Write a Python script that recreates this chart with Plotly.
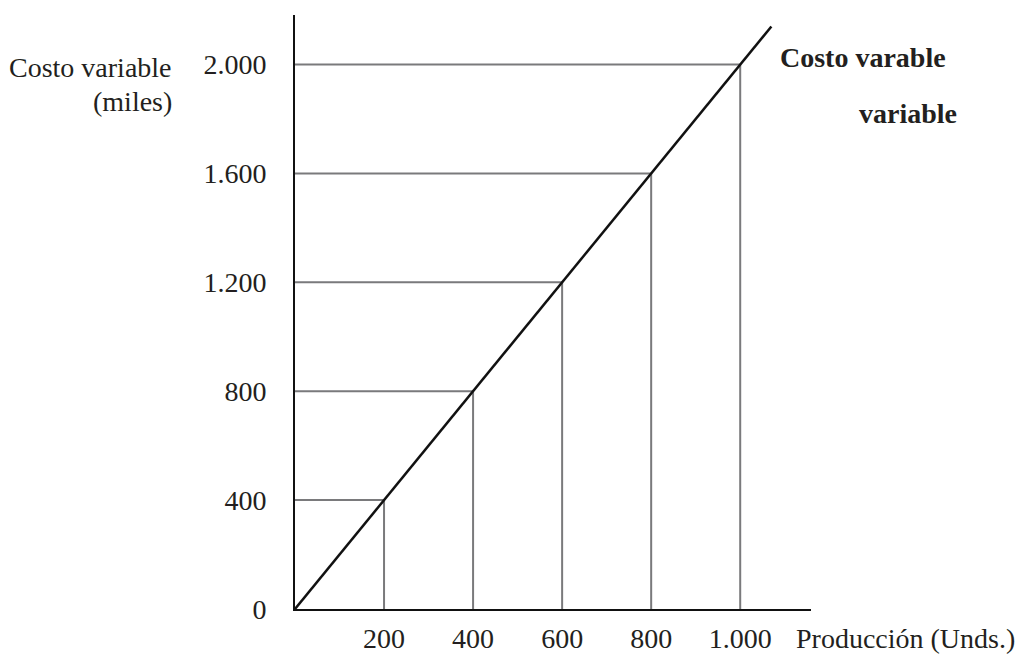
import plotly.graph_objects as go

# Data
production = [200, 400, 600, 800, 1000]
variable_cost = [400, 800, 1200, 1600, 2000]
x_tick_labels = ["200", "400", "600", "800", "1.000"]
y_tick_values = [0, 400, 800, 1200, 1600, 2000]
y_tick_labels = ["0", "400", "800", "1.200", "1.600", "2.000"]
line_production = [0, 1070]

unit_cost = variable_cost[-1] / production[-1]
line_cost = [p * unit_cost for p in line_production]

FONT = "Liberation Serif"
FS = 28
TXT = "#231f20"
GRAY = "#7a7a7c"

fig = go.Figure()

for p, c in zip(production, variable_cost):
    fig.add_trace(go.Scatter(x=[0, p, p], y=[c, c, 0], mode="lines",
                             line=dict(color=GRAY, width=2), hoverinfo="skip",
                             showlegend=False))

fig.add_trace(go.Scatter(x=line_production, y=line_cost, mode="lines",
                         line=dict(color="#111111", width=2.5),
                         showlegend=False))

OFF = 8  # page body margin
W, H = 1026 - 2 * OFF, 656 - OFF
L, R, T, B = 294.5 - OFF, 811.0 - OFF, 15.0 - OFF, 609.0 - OFF


def px(xp):
    return (xp - OFF - L) / (R - L)


def py(yp):
    return (B - (yp - OFF)) / (B - T)


fig.update_layout(
    width=W, height=H,
    margin=dict(l=L, r=W - R, t=T, b=H - B, pad=0),
    plot_bgcolor="white", paper_bgcolor="white",
    font=dict(family=FONT, color=TXT, size=FS),
    xaxis=dict(range=[0, 1159], showgrid=False, zeroline=False,
               showline=True, linecolor="#111111", linewidth=2,
               tickvals=production, ticktext=x_tick_labels,
               ticks="", ticklabelstandoff=3, automargin=False,
               tickfont=dict(family=FONT, size=FS, color=TXT)),
    yaxis=dict(range=[0, 2182], showgrid=False, zeroline=False,
               showline=True, linecolor="#111111", linewidth=2,
               tickvals=y_tick_values, ticktext=y_tick_labels,
               ticks="", ticklabelstandoff=21, automargin=False,
               tickfont=dict(family=FONT, size=FS, color=TXT)),
    annotations=[
        dict(text="Costo variable", xref="paper", yref="paper",
             x=px(173), y=py(67), xanchor="right", yanchor="middle",
             showarrow=False, font=dict(size=FS)),
        dict(text="(miles)", xref="paper", yref="paper",
             x=px(173), y=py(101), xanchor="right", yanchor="middle",
             showarrow=False, font=dict(size=FS)),
        dict(text="Producción (Unds.)", xref="paper", yref="paper",
             x=px(794), y=py(638), xanchor="left", yanchor="middle",
             showarrow=False, font=dict(size=FS)),
        dict(text="<b>Costo varable</b>", xref="paper", yref="paper",
             x=px(778), y=py(57), xanchor="left", yanchor="middle",
             showarrow=False, font=dict(size=FS)),
        dict(text="<b>variable</b>", xref="paper", yref="paper",
             x=px(857), y=py(114), xanchor="left", yanchor="middle",
             showarrow=False, font=dict(size=FS)),
    ],
)

fig.write_html("out.html")
